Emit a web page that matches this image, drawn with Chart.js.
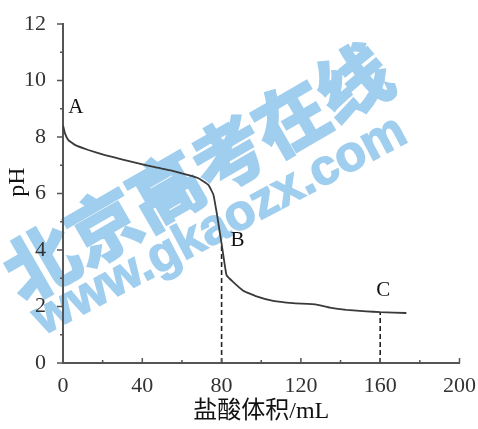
<!DOCTYPE html>
<html>
<head>
<meta charset="utf-8">
<script src="https://cdn.jsdelivr.net/npm/chart.js@4"></script>
<style>
  html, body { margin: 0; padding: 0; background: #fff; }
  #wrap { width: 478px; height: 429px; }
</style>
</head>
<body>
<div id="wrap"><canvas id="phChart"></canvas></div>
<script>
// titration curve
const volume = [0, 1, 2.7, 6, 12.8, 21.2, 29.6, 38, 46.4, 54.8, 63.3, 68.3, 73.4, 75.9, 77.6, 79.2, 80.5, 82.5, 85.9, 90.9, 97.6, 106, 116, 127.9, 134.6, 143, 153, 160, 173.2];
const ph = [8.42, 8.13, 7.89, 7.72, 7.54, 7.36, 7.21, 7.07, 6.93, 6.81, 6.65, 6.54, 6.30, 5.95, 5.29, 4.58, 3.99, 3.11, 2.86, 2.56, 2.36, 2.20, 2.12, 2.07, 1.96, 1.88, 1.83, 1.80, 1.77];

// dashed drop lines at B and C
const markX = [80, 160];
const markY = [4.2, 1.8];

// point labels
const pointNames = ['A', 'B', 'C'];
const pointX = [6.5, 88, 161.5];
const pointY = [9.06, 4.35, 2.57];

const xTitle = '盐酸体积/mL';
const yTitle = 'pH';
const watermark = '北京高考在线';
const watermarkUrl = 'www.gkaozx.com';

const serif = '"Liberation Serif", "Noto Sans CJK SC", serif';
const axisColor = '#555';

const ctx = document.getElementById('phChart').getContext('2d');

const datasets = [{
    data: volume.map((v, i) => ({ x: v, y: ph[i] })),
    borderColor: '#3a3a3a',
    borderWidth: 1.8,
    pointRadius: 0,
    tension: 0.1,
    fill: false
}];
markX.forEach((mx, i) => {
    datasets.push({
        data: [{ x: mx, y: 0 }, { x: mx, y: markY[i] }],
        borderColor: '#222',
        borderWidth: 1.6,
        borderDash: [5, 3],
        pointRadius: 0,
        fill: false
    });
});

// watermark behind everything
const watermarkPlugin = {
    id: 'watermark',
    beforeDraw(chart) {
        const c = chart.ctx;
        const blue = 'rgb(160, 206, 238)';
        c.save();
        c.fillStyle = blue;
        c.strokeStyle = blue;
        c.textAlign = 'center';
        c.textBaseline = 'middle';
        c.translate(197, 172);
        c.rotate(-30 * Math.PI / 180);
        c.font = 'bold 72px "Noto Sans CJK SC"';
        c.lineWidth = 3;
        c.strokeText(watermark, 0, 0);
        c.fillText(watermark, 0, 0);
        c.restore();

        c.save();
        c.fillStyle = blue;
        c.strokeStyle = blue;
        c.textAlign = 'center';
        c.textBaseline = 'middle';
        c.translate(220, 226);
        c.rotate(-28 * Math.PI / 180);
        c.font = 'bold 50px "Liberation Sans"';
        c.lineWidth = 1.5;
        c.strokeText(watermarkUrl, 0, 0);
        c.fillText(watermarkUrl, 0, 0);
        c.restore();
    }
};

// tick marks, point labels and the y title
const decorPlugin = {
    id: 'decor',
    afterDraw(chart) {
        const c = chart.ctx;
        const xs = chart.scales.x;
        const ys = chart.scales.y;
        c.save();
        c.strokeStyle = axisColor;
        c.lineWidth = 1.5;
        c.beginPath();
        for (let v = 0; v <= 12; v++) {
            const py = ys.getPixelForValue(v);
            const len = v % 2 === 0 ? 6 : 3;
            c.moveTo(xs.left - len, py);
            c.lineTo(xs.left, py);
        }
        for (let v = 20; v <= 200; v += 20) {
            const px = xs.getPixelForValue(v);
            const len = v % 40 === 0 ? 5 : 3;
            c.moveTo(px, ys.bottom);
            c.lineTo(px, ys.bottom - len);
        }
        c.stroke();

        c.fillStyle = '#111';
        c.font = '21px ' + serif;
        c.textAlign = 'center';
        c.textBaseline = 'middle';
        pointNames.forEach((n, i) => {
            c.fillText(n, xs.getPixelForValue(pointX[i]), ys.getPixelForValue(pointY[i]));
        });

        c.font = '24px ' + serif;
        c.translate(18, 182);
        c.rotate(-Math.PI / 2);
        c.fillText(yTitle, 0, 0);
        c.restore();
    }
};

new Chart(ctx, {
    type: 'line',
    data: { datasets: datasets },
    options: {
        responsive: true,
        maintainAspectRatio: false,
        animation: false,
        layout: { padding: { top: 24, right: 18, left: 0, bottom: 0 } },
        plugins: {
            legend: { display: false },
            tooltip: { enabled: false }
        },
        scales: {
            x: {
                type: 'linear',
                min: 0,
                max: 200,
                afterFit: s => { s.height = 66; },
                grid: { display: false },
                border: { display: true, color: axisColor, width: 2 },
                ticks: {
                    stepSize: 40,
                    padding: 2,
                    color: '#333',
                    font: { family: serif, size: 22 }
                },
                title: {
                    display: true,
                    text: xTitle,
                    color: '#111',
                    padding: { top: 0, bottom: 3 },
                    font: { family: serif, size: 24 }
                }
            },
            y: {
                min: 0,
                max: 12,
                afterFit: s => { s.width = 63; },
                grid: { display: false },
                border: { display: true, color: axisColor, width: 2 },
                ticks: {
                    stepSize: 2,
                    padding: 9,
                    color: '#333',
                    font: { family: serif, size: 22 }
                }
            }
        }
    },
    plugins: [watermarkPlugin, decorPlugin]
});
</script>
</body>
</html>
